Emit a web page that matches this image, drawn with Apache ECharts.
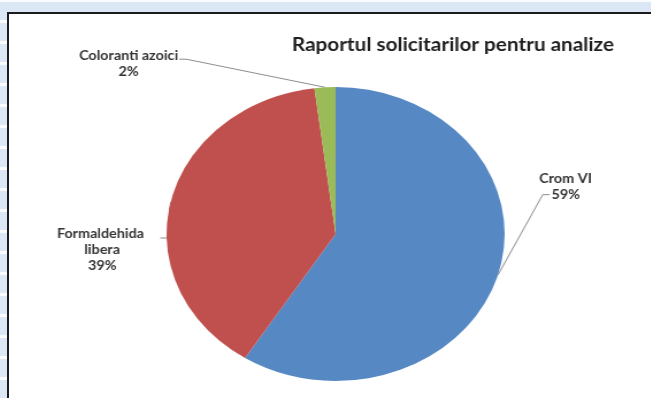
<!DOCTYPE html>
<html>
<head>
<meta charset="utf-8">
<script src="https://cdn.jsdelivr.net/npm/echarts@6/dist/echarts.min.js"></script>
<style>
  html, body { margin: 0; padding: 0; }
  body {
    width: 651px; height: 398px; overflow: hidden; position: relative;
    background-color: #dbe7f5;
    background-image: repeating-linear-gradient(0deg, rgba(255,255,255,0.0) 0px, rgba(255,255,255,0.0) 18px, rgba(255,255,255,0.85) 18px, rgba(255,255,255,0.85) 21px);
  }
  #frame {
    position: absolute; left: 7px; top: 12px; width: 660px; height: 420px;
    border-left: 2px solid #1b1b1b; border-top: 2px solid #1b1b1b;
    background: #ffffff; overflow: hidden;
  }
  #chart {
    position: absolute; left: 0; top: 0; width: 558px; height: 384px;
    transform: scaleX(1.15); transform-origin: 0 0;
  }
</style>
</head>
<body>
<div id="frame"><div id="chart"></div></div>
<script>
// ---- data ----
const titleText = 'Raportul solicitarilor pentru analize';
const categories = ['Crom VI', 'Formaldehida libera', 'Coloranti azoici'];
const values = [59, 39, 2];
const colors = ['#5689C4', '#C0504D', '#9BBB59'];

// ---- layout only (chart px, before the horizontal stretch) ----
const pieCenter = [284, 220];
const labelPos = {
  'Crom VI': [484, 173],
  'Formaldehida libera': [81, 236],
  'Coloranti azoici': [104, 50]
};
const anchorFrac = { 'Crom VI': 0.74, 'Formaldehida libera': 0.25, 'Coloranti azoici': 0.35 };
const anchorGap = { 'Crom VI': -9, 'Formaldehida libera': 3, 'Coloranti azoici': 1 };

const chart = echarts.init(document.getElementById('chart'), null, { renderer: 'canvas' });
const font = 'Lato, "Liberation Sans", sans-serif';

chart.setOption({
  animation: false,
  title: {
    text: titleText,
    left: 241, top: 17,
    textStyle: { fontFamily: font, fontSize: 18, fontWeight: 'bold', color: '#1e1e1e' }
  },
  series: [{
    type: 'pie',
    center: pieCenter,
    radius: 147,
    startAngle: 90,
    clockwise: true,
    avoidLabelOverlap: false,
    silent: true,
    itemStyle: { borderWidth: 0 },
    label: {
      show: true,
      position: 'outside',
      formatter: '{b}\n{d}%',
      fontFamily: font, fontSize: 12.5, fontWeight: 'bold', color: '#333333',
      lineHeight: 16, align: 'center'
    },
    labelLine: { show: true, length: 10, length2: 5, lineStyle: { color: '#8c8c8c', width: 1 } },
    labelLayout: function (p) {
      const name = categories[p.dataIndex];
      const c = labelPos[name];
      const w = p.labelRect.width, h = p.labelRect.height;
      const left = c[0] - w / 2, top = c[1] - h / 2;
      const onRight = c[0] > pieCenter[0];
      const gap = anchorGap[name];
      const ex = onRight ? left - gap : left + w + gap;
      const ey = top + h * anchorFrac[name];
      const mx = onRight ? ex - 6 : ex + 6;
      const res = { x: c[0], y: c[1], align: 'center', verticalAlign: 'middle' };
      if (p.labelLinePoints) res.labelLinePoints = [p.labelLinePoints[0], [mx, ey], [ex, ey]];
      return res;
    },
    data: categories.map((c, i) => {
      const item = { name: c, value: values[i], itemStyle: { color: colors[i] } };
      if (c === 'Formaldehida libera') item.label = { width: 95, overflow: 'break' };
      return item;
    })
  }]
});
</script>
</body>
</html>
